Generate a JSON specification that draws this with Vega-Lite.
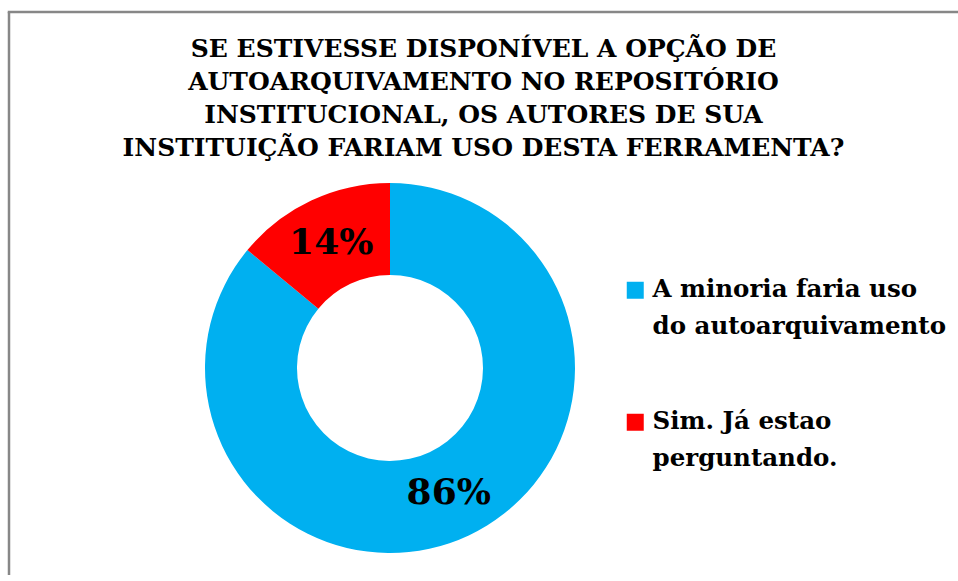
{
  "$schema": "https://vega.github.io/schema/vega-lite/v6.json",
  "autosize": {"type": "none"},
  "width": 949,
  "height": 563,
  "padding": {"left": 9, "top": 12, "right": 0, "bottom": 0},
  "background": "white",
  "title": {
    "text": ["SE ESTIVESSE DISPONÍVEL A OPÇÃO DE", "AUTOARQUIVAMENTO NO REPOSITÓRIO", "INSTITUCIONAL, OS AUTORES DE SUA", "INSTITUIÇÃO FARIAM USO DESTA FERRAMENTA?"],
    "font": "DejaVu Serif",
    "fontSize": 25,
    "fontWeight": "bold",
    "lineHeight": 33,
    "color": "black",
    "anchor": "middle",
    "frame": "group",
    "offset": -150
  },
  "data": {
    "values": [
      {"resposta": "A minoria faria uso do autoarquivamento", "percentual": 0.86, "ordem": 1},
      {"resposta": "Sim. Já estao perguntando.", "percentual": 0.14, "ordem": 2}
    ]
  },
  "layer": [
    {
      "data": {"values": [{"moldura": "topo"}]},
      "mark": {"type": "rule", "stroke": "#878787", "strokeWidth": 2.5},
      "encoding": {
        "x": {"value": -1.25},
        "x2": {"value": "width"},
        "y": {"value": 0}
      }
    },
    {
      "data": {"values": [{"moldura": "esquerda"}]},
      "mark": {"type": "rule", "stroke": "#878787", "strokeWidth": 2.5},
      "encoding": {
        "x": {"value": 0},
        "y": {"value": 0},
        "y2": {"value": {"expr": "height + 12"}}
      }
    },
    {
      "mark": {"type": "arc", "radius": 185, "innerRadius": 93, "xOffset": -93.5, "yOffset": 74.5, "stroke": null},
      "encoding": {
        "theta": {"field": "percentual", "type": "quantitative", "stack": true},
        "order": {"field": "ordem", "type": "quantitative"},
        "color": {
          "field": "resposta",
          "type": "nominal",
          "scale": {"domain": ["A minoria faria uso do autoarquivamento", "Sim. Já estao perguntando."], "range": ["#00B0F0", "#FF0000"]},
          "legend": {
            "title": null,
            "orient": "none",
            "legendX": 614,
            "legendY": 266,
            "padding": 0,
            "symbolType": "square",
            "symbolSize": 289,
            "symbolStrokeWidth": 0,
            "labelFont": "DejaVu Serif",
            "labelFontSize": 24.5,
            "labelFontWeight": "bold",
            "labelColor": "black",
            "labelLimit": 400,
            "labelOffset": 5,
            "rowPadding": 70,
            "labelExpr": "datum.label == 'A minoria faria uso do autoarquivamento' ? ['A minoria faria uso', 'do autoarquivamento'] : ['Sim. Já estao', 'perguntando.']"
          }
        }
      }
    },
    {
      "mark": {"type": "text", "radius": 138, "xOffset": -93.5, "yOffset": 74.5, "font": "DejaVu Serif", "fontSize": 36, "fontWeight": "bold", "color": "black"},
      "encoding": {
        "theta": {"field": "percentual", "type": "quantitative", "stack": true},
        "order": {"field": "ordem", "type": "quantitative"},
        "text": {"field": "percentual", "type": "quantitative", "format": ".0%"}
      }
    }
  ],
  "config": {
    "view": {"stroke": null},
    "style": {
      "guide-label": {"lineHeight": 37}
    }
  }
}
